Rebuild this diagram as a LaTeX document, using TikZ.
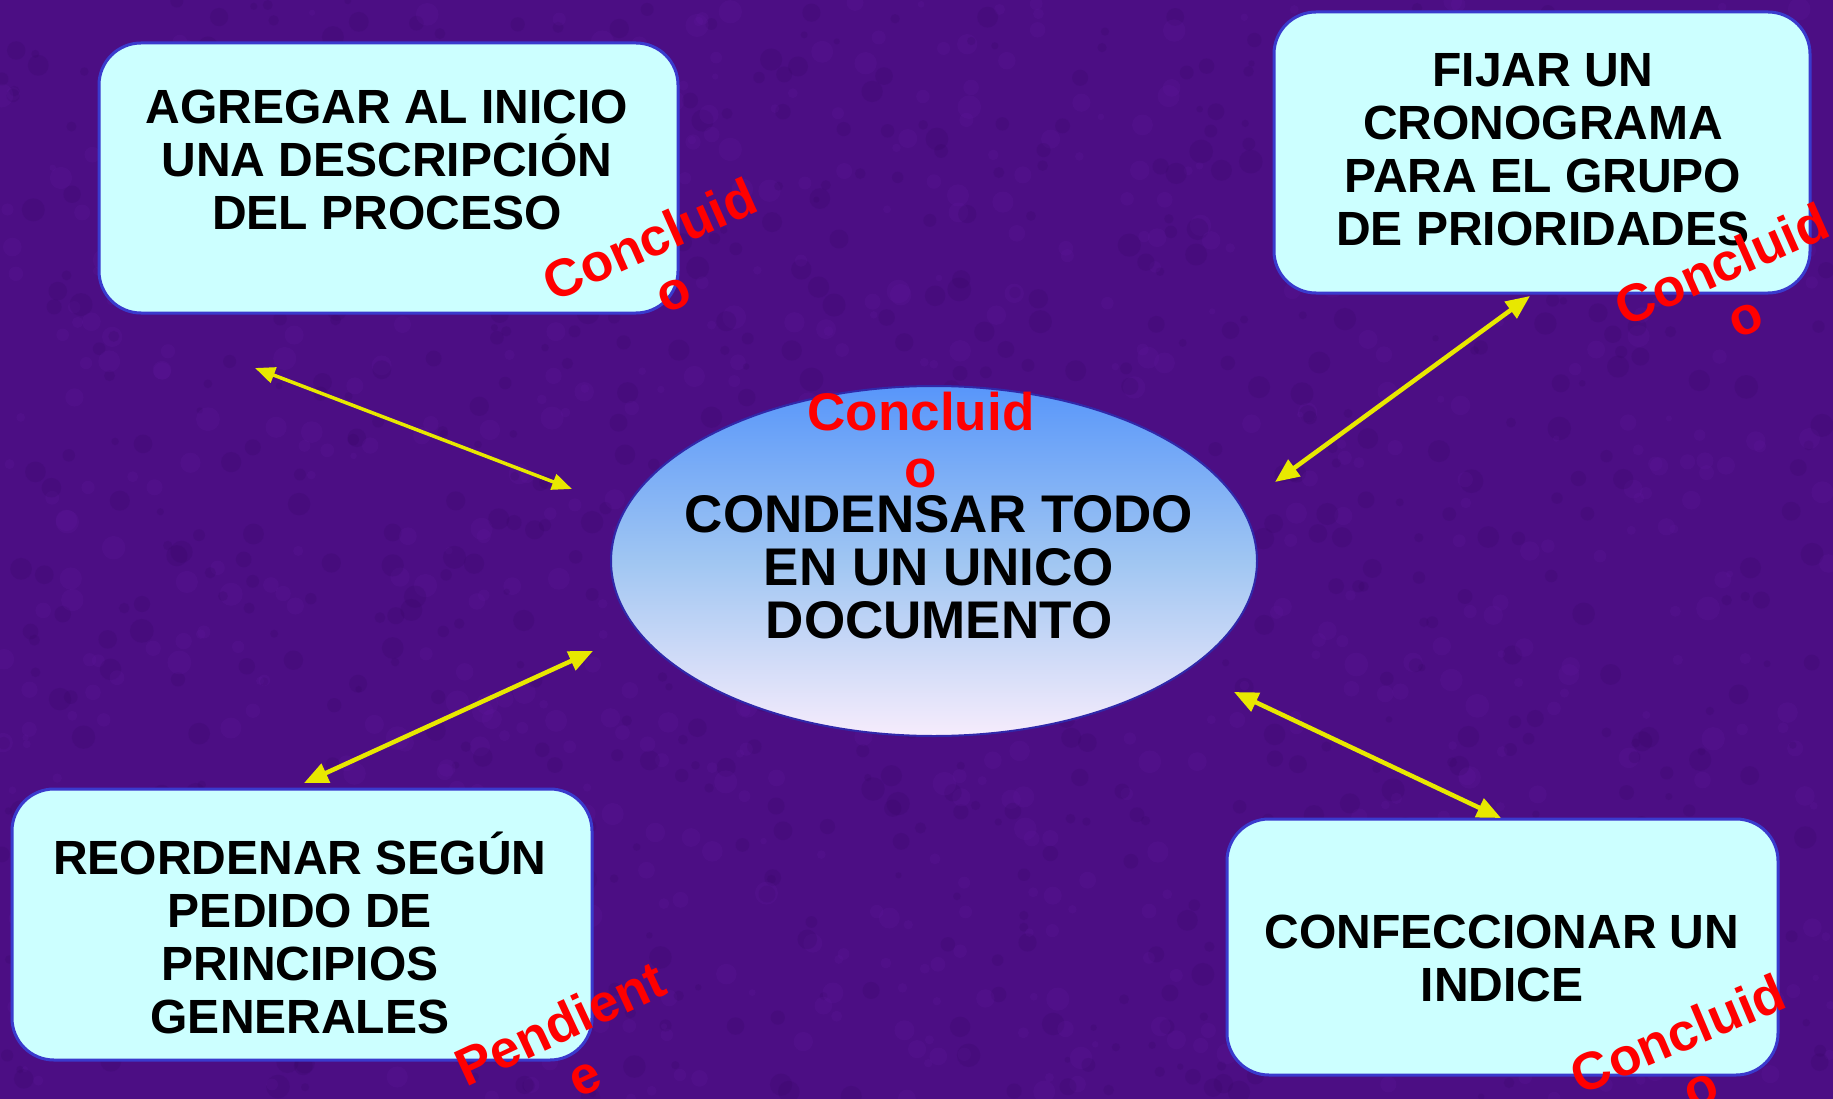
\documentclass[tikz,border=0pt]{standalone}
\usepackage{fontspec}
\setmainfont{Liberation Sans}
\usetikzlibrary{arrows.meta,shapes.geometric}
\definecolor{bgpurple}{RGB}{76,14,132}
\definecolor{bgdark}{RGB}{50,6,96}
\definecolor{bglight}{RGB}{104,28,168}
\definecolor{boxfill}{RGB}{204,255,255}
\definecolor{boxedge}{RGB}{58,58,205}
\definecolor{elledge}{RGB}{48,40,170}
\definecolor{elltop}{RGB}{88,150,250}
\definecolor{ellmid}{RGB}{160,198,242}
\definecolor{ellbot}{RGB}{246,236,252}
\definecolor{arrowyellow}{RGB}{232,232,0}
\definecolor{statusred}{RGB}{255,0,0}
\tikzset{
  taskbox/.style={draw=boxedge, line width=3pt, fill=boxfill, rounded corners=42pt, inner sep=0pt},
  tasktext/.style={align=center, inner sep=0pt, font=\fontsize{48}{53}\selectfont\bfseries, text=black},
  centertext/.style={align=center, inner sep=0pt, font=\fontsize{53}{53}\selectfont\bfseries, text=black},
  statustext/.style={align=center, inner sep=0pt, font=\fontsize{53}{57}\selectfont\bfseries, text=statusred},
  conn/.style={draw=arrowyellow, line width=4.5pt, {Triangle[length=24pt,width=20pt]}-{Triangle[length=24pt,width=20pt]}},
  connthin/.style={draw=arrowyellow, line width=3.5pt, {Triangle[length=20pt,width=16pt]}-{Triangle[length=20pt,width=16pt]}}
}
\begin{document}
\begin{tikzpicture}[x=1pt,y=-1pt]
\useasboundingbox (0,0) rectangle (1833,1099);
\fill[bgpurple] (0,0) rectangle (1833,1099);
% fine mottled texture
\pgfmathsetseed{7}
\foreach \i in {1,...,1600}{
  \pgfmathsetmacro{\px}{rnd*1833}
  \pgfmathsetmacro{\py}{rnd*1099}
  \pgfmathsetmacro{\pr}{3+rnd*9}
  \pgfmathsetmacro{\pc}{rnd}
  \ifdim\pc pt<0.5pt
    \fill[bgdark, opacity=0.18] (\px,\py) circle[radius=\pr];
  \else
    \fill[bglight, opacity=0.16] (\px,\py) circle[radius=\pr];
  \fi
}

% boxes
\node[taskbox, minimum width=579pt, minimum height=270pt] (b1) at (388.5,178) {};
\node[taskbox, minimum width=536pt, minimum height=281pt] (b2) at (1542,152.5) {};
\node[taskbox, minimum width=580pt, minimum height=271pt] (b3) at (302,924.5) {};
\node[taskbox, minimum width=551pt, minimum height=256pt] (b4) at (1502.5,947) {};

% central ellipse
\node[ellipse, draw=elledge, line width=2pt, top color=elltop, bottom color=ellbot, middle color=ellmid,
      minimum width=646pt, minimum height=350pt, inner sep=0pt] (c) at (934,561) {};

% texts
\node[tasktext] (t1) at (387,160) {AGREGAR AL INICIO\\UNA DESCRIPCIÓN\\DEL PROCESO};
\node[tasktext] (t2) at (1543,150) {FIJAR UN\\CRONOGRAMA\\PARA EL GRUPO\\DE PRIORIDADES};
\node[tasktext] (t3) at (300,933) {REORDENAR SEGÚN\\PEDIDO DE\\PRINCIPIOS\\GENERALES};
\node[tasktext] (t4) at (1502,958) {CONFECCIONAR UN\\INDICE};
\node[centertext] (tc) at (939,567) {CONDENSAR TODO\\EN UN UNICO\\DOCUMENTO};

% status labels
\node[statustext] (s0) at (921,440) {Concluid\\o};
\node[statustext, rotate=24] (s1) at (661,265) {Concluid\\o};
\node[statustext, rotate=24] (s2) at (1733,290) {Concluid\\o};
\node[statustext, rotate=25] (s3) at (572,1049) {Pendient\\e};
\node[statustext, rotate=23] (s4) at (1689,1060) {Concluid\\o};

% connector ends
\coordinate (a1s) at (255,368);
\coordinate (a1e) at (572,489);
\coordinate (a2s) at (1530,296);
\coordinate (a2e) at (1275,482);
\coordinate (a3s) at (593,651);
\coordinate (a3e) at (304,783);
\coordinate (a4s) at (1234,692);
\coordinate (a4e) at (1501,818);
\draw[connthin] (a1s) -- (a1e);
\draw[conn] (a2s) -- (a2e);
\draw[conn] (a3s) -- (a3e);
\draw[conn] (a4s) -- (a4e);
\end{tikzpicture}
\end{document}
